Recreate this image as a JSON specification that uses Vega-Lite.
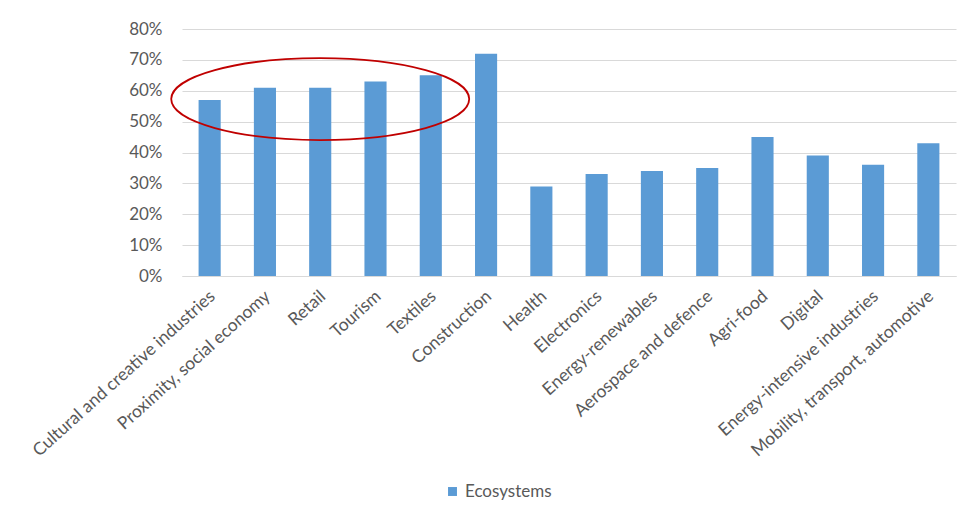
{
  "$schema": "https://vega.github.io/schema/vega-lite/v6.json",
  "width": 774,
  "height": 247,
  "autosize": {"type": "none"},
  "padding": {"left": 182, "top": 29, "right": 9, "bottom": 238},
  "background": "white",
  "config": {
    "view": {"stroke": null},
    "font": "Lato"
  },
  "encoding": {
    "x": {
      "field": "ecosystem",
      "type": "nominal",
      "sort": null,
      "scale": {"paddingInner": 0.6, "paddingOuter": 0.3},
      "axis": {
        "title": null,
        "labelAngle": -42,
        "labelFontSize": 17.5,
        "labelColor": "#595959",
        "labelPadding": 11,
        "labelOffset": -3,
        "ticks": false,
        "domainColor": "#d9d9d9",
        "labelLimit": 400,
        "labelOverlap": false
      }
    },
    "y": {
      "field": "share",
      "type": "quantitative",
      "scale": {"domain": [0, 0.8]},
      "axis": {
        "title": null,
        "format": ".0%",
        "values": [0, 0.1, 0.2, 0.3, 0.4, 0.5, 0.6, 0.7, 0.8],
        "labelOverlap": false,
        "domain": false,
        "ticks": false,
        "gridColor": "#d9d9d9",
        "labelFontSize": 17,
        "labelColor": "#595959",
        "labelPadding": 20
      }
    }
  },
  "layer": [
    {
      "data": {
        "values": [
          {"ecosystem": "Cultural and creative industries", "share": 0.57, "series": "Ecosystems"},
          {"ecosystem": "Proximity, social economy", "share": 0.61, "series": "Ecosystems"},
          {"ecosystem": "Retail", "share": 0.61, "series": "Ecosystems"},
          {"ecosystem": "Tourism", "share": 0.63, "series": "Ecosystems"},
          {"ecosystem": "Textiles", "share": 0.65, "series": "Ecosystems"},
          {"ecosystem": "Construction", "share": 0.72, "series": "Ecosystems"},
          {"ecosystem": "Health", "share": 0.29, "series": "Ecosystems"},
          {"ecosystem": "Electronics", "share": 0.33, "series": "Ecosystems"},
          {"ecosystem": "Energy-renewables", "share": 0.34, "series": "Ecosystems"},
          {"ecosystem": "Aerospace and defence", "share": 0.35, "series": "Ecosystems"},
          {"ecosystem": "Agri-food", "share": 0.45, "series": "Ecosystems"},
          {"ecosystem": "Digital", "share": 0.39, "series": "Ecosystems"},
          {"ecosystem": "Energy-intensive industries", "share": 0.36, "series": "Ecosystems"},
          {"ecosystem": "Mobility, transport, automotive", "share": 0.43, "series": "Ecosystems"}
        ]
      },
      "mark": {"type": "bar"},
      "encoding": {
        "color": {
          "field": "series",
          "type": "nominal",
          "scale": {"range": ["#5B9BD5"]},
          "legend": {
            "title": null,
            "orient": "none",
            "legendX": 262,
            "legendY": 454,
            "symbolType": "square",
            "symbolSize": 80,
            "labelFontSize": 17,
            "labelColor": "#595959"
          }
        }
      }
    },
    {
      "data": {"values": [{"ecosystem": "Retail", "share": 0.573}]},
      "mark": {
        "type": "point",
        "shape": "M-1,0 A1,0.275 0 1,0 1,0 A1,0.275 0 1,0 -1,0 Z",
        "size": 88804,
        "filled": false,
        "stroke": "#C00000",
        "strokeWidth": 1.8,
        "opacity": 1
      }
    }
  ]
}
